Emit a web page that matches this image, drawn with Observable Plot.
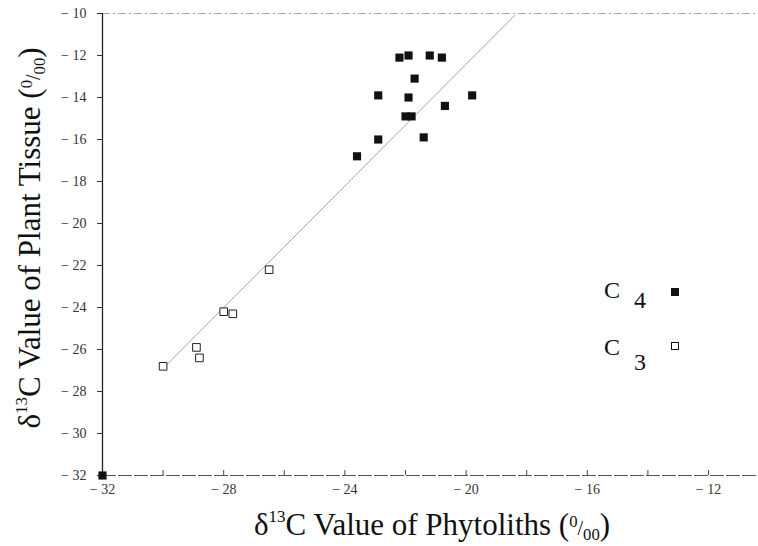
<!DOCTYPE html>
<html><head><meta charset="utf-8">
<script src="https://cdn.jsdelivr.net/npm/d3@7"></script>
<script src="https://cdn.jsdelivr.net/npm/@observablehq/plot@0.6"></script>
<style>
body{margin:0;background:#fff;}
#wrap{position:relative;width:758px;height:546px;font-family:"Liberation Serif","DejaVu Serif",serif;color:#111;}
#wrap svg{position:absolute;left:0;top:0;}
.ytitle{position:absolute;left:31px;top:238px;transform:translate(-50%,-50%) rotate(-90deg);white-space:nowrap;font-size:31px;}
.xtitle{position:absolute;left:432px;top:526px;transform:translate(-50%,-50%);white-space:nowrap;font-size:31px;}
.sup{font-size:17px;vertical-align:13px;}
.fr{font-size:20px;}
.lg{position:absolute;font-size:24px;line-height:1;}
.sq{position:absolute;width:8px;height:8px;box-sizing:border-box;border:1px solid #111;}
</style></head>
<body><div id="wrap"></div>
<script>
// C4 plants (filled squares): phytolith δ13C, plant tissue δ13C
const c4X = [-22.2, -21.9, -21.2, -20.8, -21.7, -22.9, -21.9, -19.8, -20.7, -22.0, -21.8, -22.9, -21.4, -23.6, -32.0];
const c4Y = [-12.1, -12.0, -12.0, -12.1, -13.1, -13.9, -14.0, -13.9, -14.4, -14.9, -14.9, -16.0, -15.9, -16.8, -32.0];
// C3 plants (open squares)
const c3X = [-26.5, -28.0, -27.7, -28.9, -28.8, -30.0];
const c3Y = [-22.2, -24.2, -24.3, -25.9, -26.4, -26.8];
// fitted line end points
const fitX = [-30.0, -18.4];
const fitY = [-26.9, -10.1];
// axis ticks
const xTicksAll = [-32, -30, -28, -26, -24, -22, -20, -18, -16, -14, -12];
const xTickLabels = [-32, -28, -24, -20, -16, -12];
const yTicks = [-10, -12, -14, -16, -18, -20, -22, -24, -26, -28, -30, -32];

const c4 = c4X.map((x, i) => ({x, y: c4Y[i]}));
const c3 = c3X.map((x, i) => ({x, y: c3Y[i]}));
const fit = fitX.map((x, i) => ({x, y: fitY[i]}));
const fmt = d => "\u2212 " + Math.abs(d);

const chart = Plot.plot({
  width: 758, height: 546,
  marginLeft: 102, marginTop: 13, marginRight: 0, marginBottom: 71,
  x: {domain: [-32, -10.35]},
  y: {domain: [-32, -10]},
  style: {fontFamily: "'Liberation Serif','DejaVu Serif',serif", fontSize: "14px", color: "#333", background: "transparent"},
  marks: [
    Plot.ruleY([-10], {stroke: "#aaa", strokeWidth: 1, strokeDasharray: "8,3,2,3"}),
    Plot.line(fit, {x: "x", y: "y", stroke: "#999", strokeWidth: 1, strokeDasharray: "1.5,1"}),
    Plot.axisY({ticks: yTicks, tickSize: 5, tickPadding: 11, tickFormat: fmt, label: null, stroke: "#333"}),
    Plot.axisX({ticks: xTicksAll, tickSize: -5, tickPadding: 14, tickFormat: d => xTickLabels.includes(d) ? fmt(d) : "", label: null, stroke: "#444"}),
    Plot.ruleX([-32], {stroke: "#222", strokeWidth: 1.3}),
    Plot.ruleY([-32], {stroke: "#555", strokeWidth: 1, strokeDasharray: "14,2"}),
    Plot.dot(c3, {x: "x", y: "y", symbol: "square", r: 4.3, fill: "white", stroke: "#222", strokeWidth: 1}),
    Plot.dot(c4, {x: "x", y: "y", symbol: "square", r: 4.6, fill: "#111", stroke: "none"})
  ]
});
const wrap = document.getElementById("wrap");
wrap.appendChild(chart);

function addHTML(html) { wrap.insertAdjacentHTML("beforeend", html); }
const unit = '(<span class="fr"><sup>0</sup>/<sub>00</sub></span>)';
addHTML('<div class="ytitle">δ<span class="sup">13</span>C Value of Plant Tissue ' + unit + '</div>');
addHTML('<div class="xtitle">δ<span class="sup">13</span>C Value of Phytoliths ' + unit + '</div>');
// legend
addHTML('<div class="lg" style="left:604px;top:278px">C</div><div class="lg" style="left:634px;top:288px">4</div><div class="sq" style="left:671px;top:288px;background:#111"></div>');
addHTML('<div class="lg" style="left:604px;top:335px">C</div><div class="lg" style="left:634px;top:350px">3</div><div class="sq" style="left:671px;top:342px;background:#fff"></div>');
</script>
</body></html>
